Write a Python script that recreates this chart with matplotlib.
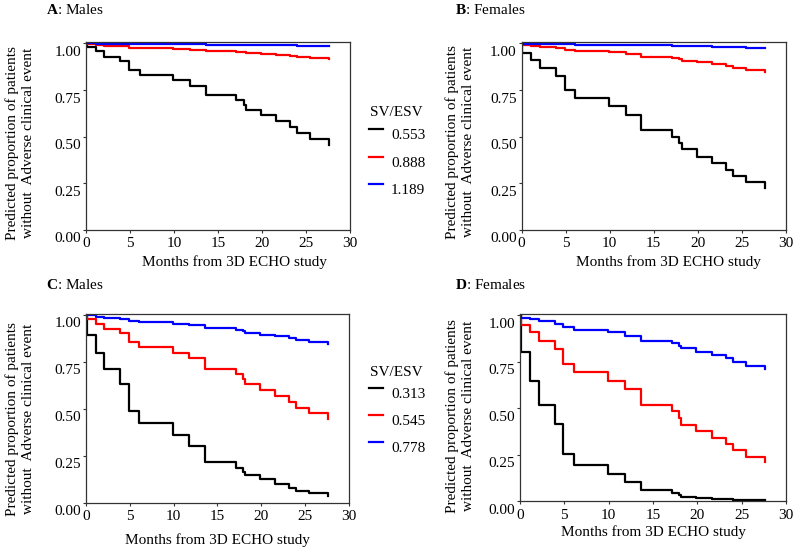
import matplotlib
matplotlib.use("Agg")
import matplotlib.pyplot as plt
from matplotlib.lines import Line2D
from matplotlib.transforms import ScaledTranslation

plt.rcParams['font.family'] = ['Liberation Serif', 'DejaVu Serif']
plt.rcParams['mathtext.fontset'] = 'custom'
plt.rcParams['mathtext.rm'] = 'Liberation Serif'
plt.rcParams['mathtext.bf'] = 'Liberation Serif:bold'

# event times (months) shared by all predicted curves
months = [0.1, 1.1, 2.1, 3.9, 4.9, 6.1, 9.9, 11.8, 13.6, 17.1, 17.9, 18.2,
          19.9, 21.6, 23.2, 24.0, 25.5, 27.6]

# A: males, SV/ESV 0.553 / 0.888 / 1.189
a_low = [0.980, 0.957, 0.925, 0.904, 0.859, 0.832, 0.806, 0.771, 0.722, 0.695,
         0.668, 0.641, 0.614, 0.582, 0.552, 0.520, 0.487, 0.457]
a_mid = [0.997, 0.993, 0.988, 0.984, 0.977, 0.974, 0.969, 0.965, 0.959, 0.956,
         0.953, 0.949, 0.944, 0.939, 0.934, 0.928, 0.921, 0.914]
a_high = [1.000, 0.999, 0.999, 0.998, 0.997, 0.997, 0.996, 0.995, 0.994, 0.993,
          0.993, 0.992, 0.991, 0.990, 0.989, 0.988, 0.987, 0.986]

# B: females, same SV/ESV values
b_low = [0.950, 0.909, 0.868, 0.825, 0.748, 0.709, 0.663, 0.618, 0.534, 0.498,
         0.468, 0.431, 0.391, 0.359, 0.320, 0.288, 0.257, 0.225]
b_mid = [0.993, 0.988, 0.982, 0.976, 0.965, 0.959, 0.952, 0.944, 0.929, 0.921,
         0.914, 0.906, 0.898, 0.889, 0.879, 0.868, 0.858, 0.846]
b_high = [0.999, 0.998, 0.998, 0.997, 0.995, 0.994, 0.993, 0.992, 0.989, 0.988,
          0.987, 0.986, 0.984, 0.983, 0.981, 0.979, 0.977, 0.975]

# C: males, SV/ESV 0.313 / 0.545 / 0.778
c_low = [0.891, 0.796, 0.712, 0.630, 0.487, 0.425, 0.359, 0.302, 0.216, 0.184,
         0.162, 0.145, 0.123, 0.100, 0.077, 0.061, 0.050, 0.037]
c_mid = [0.980, 0.952, 0.927, 0.903, 0.855, 0.828, 0.796, 0.770, 0.712, 0.684,
         0.659, 0.630, 0.600, 0.570, 0.537, 0.505, 0.475, 0.443]
c_high = [0.997, 0.990, 0.985, 0.980, 0.969, 0.962, 0.953, 0.944, 0.930, 0.921,
          0.912, 0.903, 0.894, 0.886, 0.877, 0.868, 0.855, 0.845]

# D: females
d_low = [0.803, 0.648, 0.518, 0.416, 0.255, 0.196, 0.143, 0.103, 0.059, 0.043,
         0.031, 0.023, 0.017, 0.012, 0.009, 0.007, 0.005, 0.004]
d_mid = [0.946, 0.907, 0.862, 0.818, 0.737, 0.696, 0.648, 0.600, 0.518, 0.482,
         0.446, 0.411, 0.375, 0.339, 0.309, 0.273, 0.237, 0.211]
d_high = [0.987, 0.978, 0.969, 0.952, 0.934, 0.921, 0.907, 0.889, 0.862, 0.850,
          0.836, 0.821, 0.803, 0.786, 0.768, 0.746, 0.728, 0.711]

sv_esv_top = ["0.553", "0.888", "1.189"]
sv_esv_bottom = ["0.313", "0.545", "0.778"]
colors = ["black", "#ff0000", "#0000ff"]

x_ticks = [0, 5, 10, 15, 20, 25, 30]
y_ticks = [0.0, 0.25, 0.50, 0.75, 1.00]

W, H = 800, 551
fig = plt.figure(figsize=(W / 100, H / 100), dpi=100)


def fx(x):
    return x / W


def fy(y):
    return 1 - y / H


# letter, sex, axes box (l, t, r, b), title pos, ylabel centre, xlabel centre
panels = [
    ("A", "Males", (86, 42.3, 350, 229.7), (46, 10), (20, 143), (234, 262),
     [a_low, a_mid, a_high]),
    ("B", "Females", (521.5, 42.3, 786, 229.7), (455, 10), (460, 142), (668, 262),
     [b_low, b_mid, b_high]),
    ("C", "Males", (86, 313.7, 348.7, 502.5), (46, 285), (20, 419), (217, 540),
     [c_low, c_mid, c_high]),
    ("D", "Females", (520, 314, 786, 501), (455, 285), (460, 416), (653, 532),
     [d_low, d_mid, d_high]),
]

down = ScaledTranslation(0, -5.5 / 72, fig.dpi_scale_trans)

for letter, sex, box, tpos, ylpos, xlpos, curves in panels:
    l, t, r, b = box
    ax = fig.add_axes([fx(l), fy(b), (r - l) / W, (b - t) / H])
    for vals, c in zip(curves, colors):
        ax.step([0] + months, [1.0] + vals, where="post", color=c, lw=1.6)
    ax.set_xlim(0, 30)
    ax.set_ylim(0, 1.006)
    ax.set_xticks(x_ticks)
    ax.set_yticks(y_ticks)
    ax.set_yticklabels(["%.2f" % v for v in y_ticks])
    ax.tick_params(direction="out", length=2.5, width=0.8, labelsize=11,
                   color="#333333")
    ax.tick_params(axis="y", pad=1)
    ax.tick_params(axis="x", pad=3)
    for lbl in ax.get_yticklabels():
        lbl.set_transform(lbl.get_transform() + down)
    for s in ax.spines.values():
        s.set_color("#333333")
        s.set_linewidth(0.9)

    ax.set_ylabel("Predicted proportion of patients\nwithout  Adverse clinical event",
                  fontsize=11, linespacing=1.3)
    ax.yaxis.label.set_va("center")
    ax.yaxis.set_label_coords((ylpos[0] - l) / (r - l), (b - ylpos[1]) / (b - t))
    ax.set_xlabel("Months from 3D ECHO study", fontsize=11)
    ax.xaxis.label.set_va("center")
    ax.xaxis.set_label_coords((xlpos[0] - l) / (r - l), (b - xlpos[1]) / (b - t))

    fig.text(fx(tpos[0]), fy(tpos[1]), r"$\mathbf{%s}$: %s" % (letter, sex),
             fontsize=11, ha="left", va="center")

# legends between the columns
legends = [
    (sv_esv_top, 112.7, [129.3, 156.7, 184.0]),
    (sv_esv_bottom, 372.0, [388.0, 415.0, 442.0]),
]
for labels, title_y, line_ys in legends:
    fig.text(fx(370), fy(title_y), "SV/ESV", fontsize=11, ha="left", va="center")
    for lab, ly, c in zip(labels, line_ys, colors):
        fig.add_artist(Line2D([fx(369), fx(383)], [fy(ly), fy(ly)], color=c,
                              lw=1.6, transform=fig.transFigure))
        fig.text(fx(391), fy(ly + 6.5), lab, fontsize=11, ha="left", va="center")

fig.savefig("out.png", dpi=100)
